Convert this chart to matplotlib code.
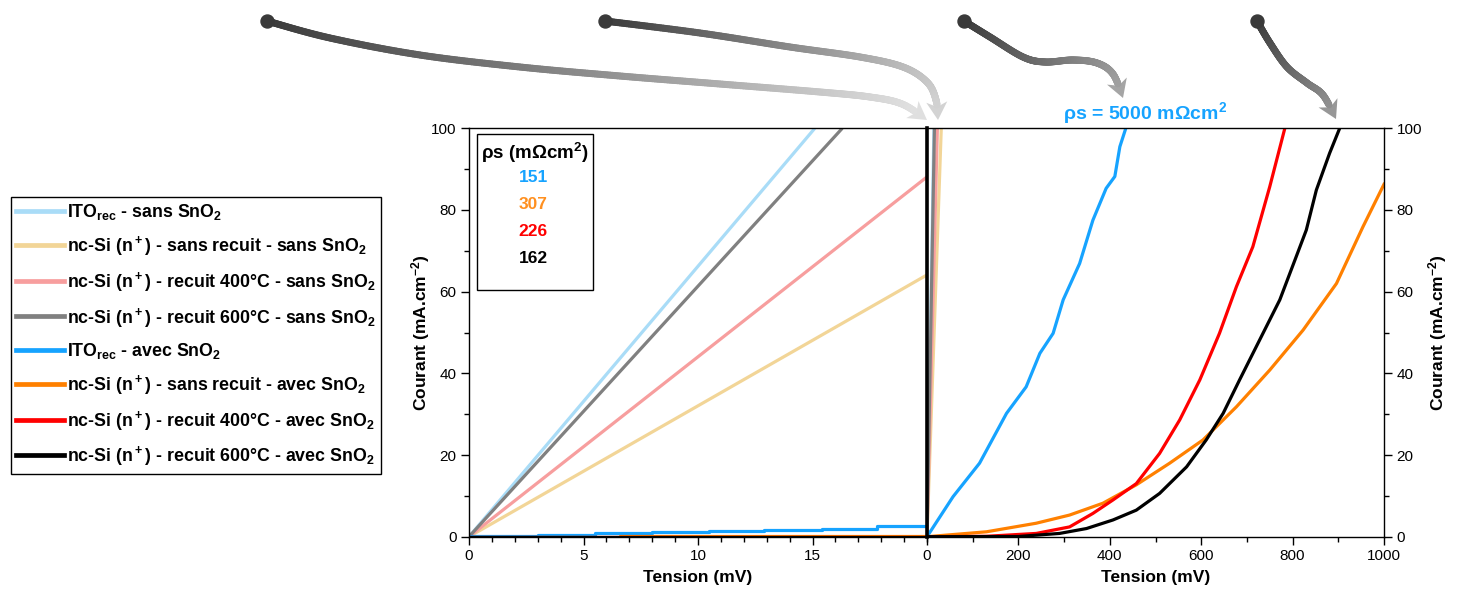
import numpy as np
import matplotlib
matplotlib.use('Agg')
import matplotlib.pyplot as plt
from matplotlib.collections import LineCollection
from matplotlib.patches import Polygon, Rectangle
from matplotlib.lines import Line2D
from matplotlib.ticker import MultipleLocator

plt.rcParams['font.family'] = ['Liberation Sans', 'DejaVu Sans']
plt.rcParams['mathtext.default'] = 'regular'

# ---------------- data ----------------
labels = [
    'ITO$_{rec}$ - sans SnO$_2$',
    'nc-Si (n$^+$) - sans recuit - sans SnO$_2$',
    'nc-Si (n$^+$) - recuit 400°C - sans SnO$_2$',
    'nc-Si (n$^+$) - recuit 600°C - sans SnO$_2$',
    'ITO$_{rec}$ - avec SnO$_2$',
    'nc-Si (n$^+$) - sans recuit - avec SnO$_2$',
    'nc-Si (n$^+$) - recuit 400°C - avec SnO$_2$',
    'nc-Si (n$^+$) - recuit 600°C - avec SnO$_2$',
]
colors = ['#a9dcf7', '#f2d597', '#f79e9e', '#808080',
          '#16a3ff', '#ff8000', '#ff0000', '#000000']

# sans SnO2 (ohmic, linear) : tension (mV), courant (mA/cm2)
ito_sans_V = [0, 15.1];   ito_sans_I = [0, 100]
ncsi_sans_V = [0, 31.2];  ncsi_sans_I = [0, 100]
ncsi400_sans_V = [0, 22.7]; ncsi400_sans_I = [0, 100]
ncsi600_sans_V = [0, 16.3]; ncsi600_sans_I = [0, 100]

# avec SnO2, low-voltage zoom (0-20 mV)
ito_avec_zoom_V = [0, 3, 5.5, 8, 10.5, 12.9, 15.4, 17.8, 20]
ito_avec_zoom_I = [0.2, 0.5, 0.8, 1.1, 1.4, 1.7, 2.0, 2.5, 2.5]
ncsi_avec_zoom_V = [0, 6.6, 20]
ncsi_avec_zoom_I = [0, 0.25, 0.25]
ncsi400_avec_zoom_V = [0, 20]; ncsi400_avec_zoom_I = [0, 0.02]
ncsi600_avec_zoom_V = [0, 20]; ncsi600_avec_zoom_I = [0, 0.01]

# avec SnO2, full range (0-1000 mV)
ito_avec_V = [0, 57, 115, 174, 217, 247, 276, 298, 334, 363, 392, 411, 422, 435]
ito_avec_I = [0, 9.8, 18, 30.2, 36.7, 44.9, 49.8, 58, 66.9, 77.5, 85.3, 88.2, 95.5, 100]
ncsi_avec_V = [0, 130, 239, 312, 385, 458, 531, 604, 677, 750, 823, 896, 954, 1000]
ncsi_avec_I = [0, 1.2, 3.3, 5.3, 8.2, 12.7, 18, 23.7, 31.8, 40.8, 50.6, 62, 75.9, 86.3]
ncsi400_avec_V = [0, 130, 239, 312, 363, 407, 458, 509, 553, 597, 640, 677, 713, 750, 783]
ncsi400_avec_I = [0, 0.1, 0.8, 2.4, 5.7, 9, 13, 20.4, 28.6, 38.4, 49.8, 61.2, 71, 85.7, 100]
ncsi600_avec_V = [0, 200, 290, 349, 407, 458, 509, 568, 611, 648, 684, 728, 772, 808, 830, 852, 881, 903]
ncsi600_avec_I = [0, 0.05, 0.8, 2, 4.1, 6.5, 10.6, 17.1, 23.7, 30.2, 38.4, 48.2, 58, 68.6, 75.1, 84.9, 93.9, 100]

rho_labels = ['151', '307', '226', '162']
rho_colors = ['#16a3ff', '#ff9020', '#ff0000', '#000000']

# ---------------- figure ----------------
W, H = 1464, 592
fig = plt.figure(figsize=(W / 100, H / 100), dpi=100)
y_bot, y_top = 536.7, 128.3
axL = fig.add_axes([469 / W, 1 - y_bot / H, (927 - 469) / W, (y_bot - y_top) / H])
axR = fig.add_axes([927 / W, 1 - y_bot / H, (1384 - 927) / W, (y_bot - y_top) / H])

lw = 2.3
sans = [(ito_sans_V, ito_sans_I), (ncsi_sans_V, ncsi_sans_I),
        (ncsi400_sans_V, ncsi400_sans_I), (ncsi600_sans_V, ncsi600_sans_I)]
avec_zoom = [(ito_avec_zoom_V, ito_avec_zoom_I), (ncsi_avec_zoom_V, ncsi_avec_zoom_I),
             (ncsi400_avec_zoom_V, ncsi400_avec_zoom_I), (ncsi600_avec_zoom_V, ncsi600_avec_zoom_I)]
avec = [(ito_avec_V, ito_avec_I), (ncsi_avec_V, ncsi_avec_I),
        (ncsi400_avec_V, ncsi400_avec_I), (ncsi600_avec_V, ncsi600_avec_I)]

for ax in (axL, axR):
    for i, (v, c) in enumerate(sans):
        ax.plot(v, c, color=colors[i], lw=lw, solid_capstyle='butt')
for i, (v, c) in enumerate(avec_zoom):
    axL.plot(v, c, color=colors[4 + i], lw=lw, drawstyle='steps-post')
for i, (v, c) in enumerate(avec):
    axR.plot(v, c, color=colors[4 + i], lw=lw)

axL.set_xlim(0, 20)
axR.set_xlim(0, 1000)
for ax in (axL, axR):
    ax.set_ylim(0, 100)
    ax.yaxis.set_major_locator(MultipleLocator(20))
    ax.yaxis.set_minor_locator(MultipleLocator(10))
    for s in ax.spines.values():
        s.set_linewidth(1.0)
    ax.tick_params(which='major', direction='out', length=6, width=1, labelsize=11, pad=3)
    ax.tick_params(which='minor', direction='out', length=3.5, width=1)
    ax.set_xlabel('Tension (mV)', fontsize=12.5, fontweight='bold', labelpad=5)

axL.set_xticks([0, 5, 10, 15])
axL.xaxis.set_minor_locator(MultipleLocator(1))
axL.spines['right'].set_visible(False)
axL.tick_params(which='both', top=False, right=False)
axL.set_ylabel('Courant (mA.cm$^{-2}$)', fontsize=12.5, fontweight='bold', labelpad=-1)

axR.xaxis.set_major_locator(MultipleLocator(200))
axR.xaxis.set_minor_locator(MultipleLocator(100))
axR.spines['left'].set_linewidth(2.6)
axR.tick_params(which='both', left=False, labelleft=False, right=True, labelright=True, top=False)
axR.yaxis.set_label_position('right')
axR.set_ylabel('Courant (mA.cm$^{-2}$)', fontsize=12.5, fontweight='bold', rotation=90, labelpad=3)

# inset resistivity table
axL.add_patch(Rectangle((0.0175, 0.604), 0.253, 0.382, transform=axL.transAxes,
                        facecolor='white', edgecolor='black', lw=1.0, zorder=5))
axL.text(0.143, 0.940, 'ρs (mΩcm$^2$)', transform=axL.transAxes, ha='center', va='center',
         fontsize=13.5, fontweight='bold', zorder=6)
for k, (t, c) in enumerate(zip(rho_labels, rho_colors)):
    axL.text(0.14, 0.880 - k * 0.066, t, transform=axL.transAxes, ha='center', va='center',
             fontsize=12.5, fontweight='bold', color=c, zorder=6)

fig.text(1145 / W, 1 - 113 / H, 'ρs = 5000 mΩcm$^2$', ha='center', va='center',
         fontsize=14, fontweight='bold', color='#16a3ff')

# legend
handles = [Line2D([], [], color=c, lw=3.4) for c in colors]
leg = fig.legend(handles, labels, loc='upper left', bbox_to_anchor=(10.5 / W, 1 - 197 / H),
                 bbox_transform=fig.transFigure, borderaxespad=0, fancybox=False,
                 edgecolor='black', framealpha=1, handlelength=2.7,
                 handletextpad=0.2, labelspacing=0.66, borderpad=0.3,
                 prop={'size': 12.8, 'weight': 'bold'})
leg.get_frame().set_linewidth(1.0)


# ---------------- decorative gradient arrows ----------------
def catmull(points, n=40):
    p = np.asarray(points, float)
    p = np.vstack([p[0], p, p[-1]])
    out = []
    for i in range(1, len(p) - 2):
        p0, p1, p2, p3 = p[i - 1], p[i], p[i + 1], p[i + 2]
        t = np.linspace(0, 1, n, endpoint=False)[:, None]
        out.append(0.5 * ((2 * p1) + (-p0 + p2) * t + (2 * p0 - 5 * p1 + 4 * p2 - p3) * t ** 2
                          + (-p0 + 3 * p1 - 3 * p2 + p3) * t ** 3))
    out.append(p[-2][None, :])
    return np.vstack(out)


def to_fig(xy):
    xy = np.asarray(xy, float)
    return np.column_stack([xy[:, 0] / W, 1 - xy[:, 1] / H])


def gradient_arrow(pts, c0, c1, width_px=7, head_w=21, head_l=18, dot_r=6.5):
    curve = catmull(pts)
    tip = curve[-1]
    d = np.cumsum(np.r_[0, np.hypot(*np.diff(curve, axis=0).T)])
    total = d[-1]
    keep = d <= total - head_l + 3
    body = curve[keep]
    base = curve[keep][-1]
    direc = (tip - base) / np.linalg.norm(tip - base)
    perp = np.array([-direc[1], direc[0]])
    c0 = np.array(matplotlib.colors.to_rgb(c0)); c1 = np.array(matplotlib.colors.to_rgb(c1))
    f = d[keep] / total
    cols = c0[None, :] * (1 - f[:, None]) + c1[None, :] * f[:, None]
    bf = to_fig(body)
    segs = np.stack([bf[:-1], bf[1:]], axis=1)
    lc = LineCollection(segs, colors=cols[:-1], linewidths=width_px * 0.72,
                        capstyle='round', transform=fig.transFigure)
    fig.add_artist(lc)
    hb = tip - direc * head_l
    head = np.array([tip, hb + perp * head_w / 2, hb + direc * 5, hb - perp * head_w / 2])
    colh = c0 * (1 - 0.97) + c1 * 0.97
    fig.add_artist(Polygon(to_fig(head), closed=True, facecolor=colh, edgecolor='none',
                           transform=fig.transFigure))
    s = to_fig([pts[0]])[0]
    fig.add_artist(Line2D([s[0]], [s[1]], marker='o', ms=dot_r * 2 * 0.72, color=c0,
                          transform=fig.transFigure))


gradient_arrow([(267, 21), (330, 38), (420, 55), (520, 67), (620, 76), (720, 84),
                (820, 92), (870, 97), (902, 104), (927, 120)], '#3a3a3a', '#e4e4e4')
gradient_arrow([(605, 21), (700, 33), (790, 47), (860, 57), (903, 67), (927, 82),
                (936, 100), (938, 120)], '#3a3a3a', '#d8d8d8')
gradient_arrow([(964, 21), (990, 37), (1023, 57), (1045, 62), (1073, 60), (1097, 63),
                (1113, 74), (1123, 98)], '#3a3a3a', '#a8a8a8')
gradient_arrow([(1257, 21), (1270, 43), (1287, 67), (1307, 83), (1323, 95),
                (1336, 119)], '#3a3a3a', '#9a9a9a')

fig.savefig('out.png', dpi=100)
